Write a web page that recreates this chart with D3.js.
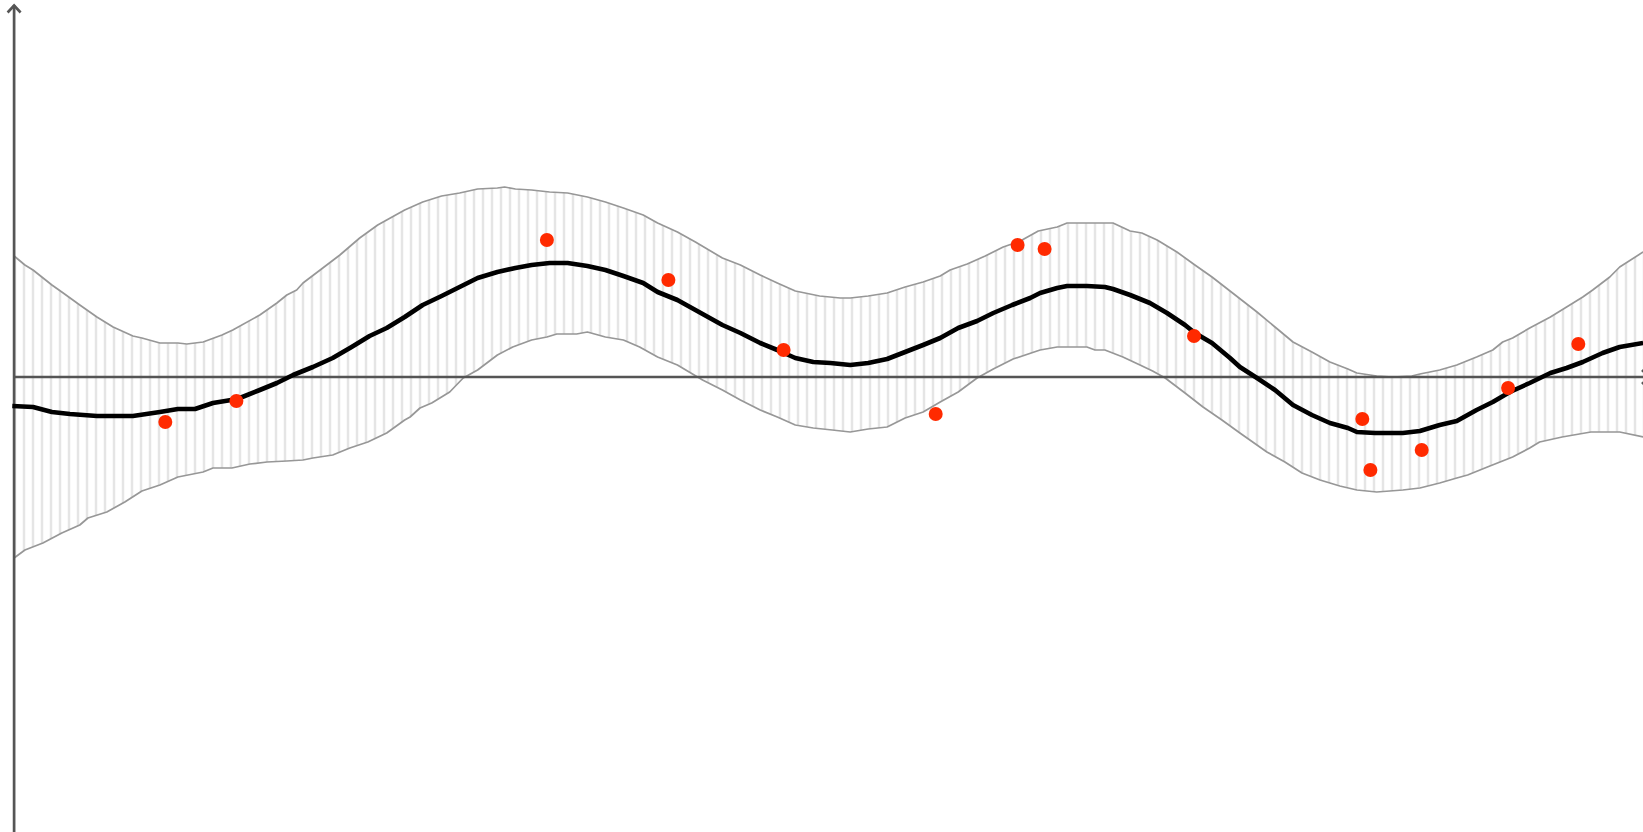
<!DOCTYPE html>
<html>
<head>
<meta charset="utf-8">
<script src="https://cdn.jsdelivr.net/npm/d3@7"></script>
<style>
  html, body { margin: 0; padding: 0; background: #fff; }
  svg { display: block; }
</style>
</head>
<body>
<svg id="chart" width="1643" height="832"></svg>
<script>
// Posterior mean of the regression, as [sample index, value]
const meanCurve = [
  [-0.3,-0.29],[2.0,-0.30],[4.1,-0.35],[6.1,-0.37],[9.1,-0.39],[13.1,-0.39],[16.1,-0.35],
  [18.1,-0.32],[20.0,-0.32],[22.0,-0.26],[24.7,-0.22],[27.2,-0.13],[29.1,-0.06],[30.9,0.02],
  [33.1,0.10],[35.3,0.19],[37.4,0.30],[39.4,0.41],[41.3,0.49],[43.3,0.60],[45.3,0.72],
  [47.4,0.81],[49.4,0.90],[51.4,0.99],[53.6,1.05],[55.6,1.09],[57.4,1.12],[59.4,1.14],
  [61.4,1.14],[63.6,1.11],[65.6,1.07],[67.6,1.01],[69.8,0.94],[71.4,0.85],[73.6,0.77],
  [75.6,0.67],[78.6,0.52],[80.6,0.44],[82.8,0.34],[84.7,0.27],[86.7,0.19],[88.7,0.15],
  [90.6,0.14],[92.8,0.12],[94.8,0.14],[96.9,0.18],[98.9,0.25],[100.9,0.32],[102.8,0.39],
  [104.8,0.49],[106.9,0.56],[108.7,0.64],[110.8,0.72],[112.8,0.79],[113.9,0.84],[115.8,0.89],
  [116.9,0.91],[119.1,0.91],[121.1,0.90],[122.0,0.88],[123.9,0.82],[126.1,0.74],[128.0,0.64],
  [130.0,0.52],[131.1,0.44],[133.0,0.34],[135.0,0.19],[136.1,0.10],[138.0,-0.01],[140.0,-0.13],
  [142.0,-0.28],[144.1,-0.38],[146.1,-0.46],[148.1,-0.51],[149.1,-0.55],[151.1,-0.56],
  [154.2,-0.56],[156.1,-0.54],[158.3,-0.48],[160.2,-0.44],[162.4,-0.33],[164.2,-0.25],
  [166.1,-0.15],[168.3,-0.06],[170.6,0.04],[172.4,0.09],[174.2,0.15],[176.4,0.24],
  [178.3,0.30],[180.9,0.34]
];

// Upper edge of the confidence band
const upperCurve = [
  [-0.1,1.21],[1.1,1.12],[2.0,1.07],[4.1,0.92],[5.2,0.85],[7.2,0.72],[9.1,0.60],[10.9,0.50],
  [13.1,0.41],[14.1,0.39],[16.1,0.34],[18.1,0.34],[19.1,0.33],[20.9,0.35],[23.0,0.42],
  [24.2,0.47],[27.2,0.62],[29.1,0.74],[30.2,0.82],[31.3,0.87],[32.0,0.94],[34.2,1.09],
  [36.1,1.22],[38.3,1.39],[40.3,1.52],[41.3,1.57],[43.3,1.67],[45.3,1.75],[47.4,1.81],
  [49.4,1.84],[51.4,1.88],[53.6,1.89],[54.4,1.90],[55.6,1.88],[57.4,1.87],[59.4,1.85],
  [61.4,1.84],[63.6,1.80],[65.6,1.75],[67.6,1.69],[69.8,1.62],[71.4,1.54],[73.6,1.45],
  [75.6,1.35],[78.6,1.19],[80.6,1.12],[82.8,1.02],[84.7,0.94],[86.7,0.86],[89.4,0.81],
  [91.7,0.79],[92.8,0.79],[94.8,0.81],[96.9,0.84],[98.9,0.90],[100.9,0.95],[102.8,1.01],
  [103.9,1.07],[105.8,1.13],[107.8,1.21],[109.8,1.30],[111.7,1.36],[113.7,1.46],[115.8,1.50],
  [116.9,1.54],[122.0,1.54],[123.9,1.46],[125.2,1.44],[126.9,1.37],[129.1,1.25],[131.1,1.12],
  [133.0,1.00],[135.0,0.86],[138.0,0.65],[140.0,0.50],[142.0,0.35],[144.1,0.25],[146.1,0.15],
  [148.1,0.08],[149.1,0.04],[151.3,0.01],[153.1,0.00],[155.2,0.01],[156.1,0.03],[158.3,0.07],
  [160.2,0.12],[162.4,0.20],[164.2,0.27],[165.3,0.35],[166.4,0.39],[168.3,0.49],[170.6,0.60],
  [172.4,0.70],[174.2,0.80],[175.3,0.87],[177.2,1.00],[178.3,1.10],[180.9,1.25]
];

// Lower edge of the confidence band
const lowerCurve = [
  [-0.1,-1.81],[1.1,-1.73],[3.1,-1.66],[5.2,-1.56],[7.2,-1.48],[8.1,-1.41],[10.2,-1.35],
  [12.2,-1.25],[14.1,-1.14],[16.1,-1.08],[18.1,-1.00],[20.9,-0.95],[22.0,-0.91],[24.1,-0.91],
  [26.1,-0.87],[28.0,-0.85],[30.2,-0.84],[32.0,-0.83],[33.1,-0.81],[35.3,-0.78],[37.2,-0.71],
  [39.2,-0.65],[41.3,-0.56],[43.3,-0.43],[43.9,-0.40],[45.0,-0.31],[46.3,-0.26],[48.3,-0.15],
  [49.8,-0.01],[51.4,0.07],[53.6,0.22],[55.3,0.30],[57.4,0.37],[59.1,0.40],[60.2,0.43],
  [62.4,0.43],[63.6,0.45],[65.6,0.40],[67.6,0.37],[69.4,0.30],[71.4,0.20],[73.6,0.12],
  [76.4,-0.03],[78.6,-0.13],[80.6,-0.23],[82.8,-0.33],[84.7,-0.40],[86.7,-0.48],[88.7,-0.51],
  [90.8,-0.53],[92.8,-0.55],[94.8,-0.52],[96.9,-0.50],[98.9,-0.41],[100.9,-0.35],[102.8,-0.25],
  [104.8,-0.15],[106.9,-0.01],[108.7,0.08],[110.9,0.18],[113.9,0.27],[115.8,0.30],[119.1,0.30],
  [120.0,0.27],[121.1,0.27],[123.1,0.20],[125.0,0.12],[126.4,0.06],[127.8,-0.01],[130.0,-0.16],
  [132.0,-0.30],[134.1,-0.43],[136.1,-0.56],[139.1,-0.75],[141.1,-0.85],[143.0,-0.96],
  [145.0,-1.03],[147.2,-1.09],[149.1,-1.13],[151.3,-1.15],[154.2,-1.13],[156.1,-1.11],
  [158.3,-1.06],[160.2,-1.01],[161.4,-0.98],[163.6,-0.90],[166.4,-0.80],[168.3,-0.71],
  [169.4,-0.65],[171.9,-0.60],[175.1,-0.55],[178.3,-0.55],[180.9,-0.60]
];

// Observed training points
const obsX = [16.7, 24.6, 59.1, 72.6, 85.4, 102.3, 111.4, 114.4, 131.0, 149.7, 150.6, 156.3, 165.9, 173.7];
const obsY = [-0.45, -0.24, 1.37, 0.97, 0.27, -0.37, 1.32, 1.28, 0.41, -0.42, -0.93, -0.73, -0.11, 0.33];

const W = 1643, H = 832;
const svg = d3.select("#chart");

const x = d3.scaleLinear().domain([0, 181]).range([15, 1644]);
const y = d3.scaleLinear().domain([-4.55, 3.72]).range([H, 5]);
const xOrigin = -0.1;

// Band between the lower and upper curves, merged on a common set of x positions
const bandXs = Array.from(new Set(upperCurve.map(d => d[0]).concat(lowerCurve.map(d => d[0])))).sort((a, b) => a - b);
const interp = curve => {
  const xs = curve.map(d => d[0]), ys = curve.map(d => d[1]);
  return v => {
    const i = Math.max(1, Math.min(xs.length - 1, d3.bisectLeft(xs, v)));
    const t = (v - xs[i - 1]) / (xs[i] - xs[i - 1]);
    return ys[i - 1] + t * (ys[i] - ys[i - 1]);
  };
};
const upAt = interp(upperCurve), loAt = interp(lowerCurve);
const band = bandXs.map(v => ({ x: v, hi: upAt(v), lo: loAt(v) }));

const area = d3.area().x(d => x(d.x)).y0(d => y(d.lo)).y1(d => y(d.hi));
const line = d3.line().x(d => x(d[0])).y(d => y(d[1]));

const defs = svg.append("defs");
const step = x(1) - x(0);
const pat = defs.append("pattern")
  .attr("id", "hatch")
  .attr("patternUnits", "userSpaceOnUse")
  .attr("x", x(0) - step / 2).attr("y", 0)
  .attr("width", step).attr("height", H);
pat.append("line")
  .attr("x1", step / 2).attr("x2", step / 2)
  .attr("y1", 0).attr("y2", H)
  .attr("stroke", "#d6d6d6").attr("stroke-width", 1.6);

// Hatched confidence band
svg.append("path").datum(band)
  .attr("d", area)
  .attr("fill", "url(#hatch)");

// Band edges
[upperCurve, lowerCurve].forEach(c => {
  svg.append("path").datum(c)
    .attr("d", line)
    .attr("fill", "none")
    .attr("stroke", "#979797")
    .attr("stroke-width", 1.7)
    .attr("stroke-linejoin", "round");
});

// Axes through the origin, with arrow heads
const axisColor = "#555";
const x0 = x(xOrigin), y0 = y(0);
svg.append("line")
  .attr("x1", x0).attr("x2", x0)
  .attr("y1", y(y.domain()[1])).attr("y2", y(y.domain()[0]))
  .attr("stroke", axisColor).attr("stroke-width", 2.7);
svg.append("line")
  .attr("x1", x0).attr("x2", W + 6)
  .attr("y1", y0).attr("y2", y0)
  .attr("stroke", axisColor).attr("stroke-width", 2.7);
svg.append("path")
  .attr("d", `M${x0 - 6.5},${y(y.domain()[1]) + 7.5}L${x0},${y(y.domain()[1]) + 0.5}L${x0 + 6.5},${y(y.domain()[1]) + 7.5}`)
  .attr("fill", "none").attr("stroke", axisColor).attr("stroke-width", 2.6);
svg.append("path")
  .attr("d", `M${W - 1},${y0 - 7}L${W + 6},${y0}L${W - 1},${y0 + 7}`)
  .attr("fill", "none").attr("stroke", axisColor).attr("stroke-width", 2.6);

// Posterior mean
svg.append("path").datum(meanCurve)
  .attr("d", line)
  .attr("fill", "none")
  .attr("stroke", "#000")
  .attr("stroke-width", 4.6)
  .attr("stroke-linejoin", "round");

// Observations
svg.append("g").selectAll("circle")
  .data(obsX.map((v, i) => [v, obsY[i]]))
  .join("circle")
  .attr("cx", d => x(d[0]))
  .attr("cy", d => y(d[1]))
  .attr("r", 7)
  .attr("fill", "#ff2a00");
</script>
</body>
</html>
